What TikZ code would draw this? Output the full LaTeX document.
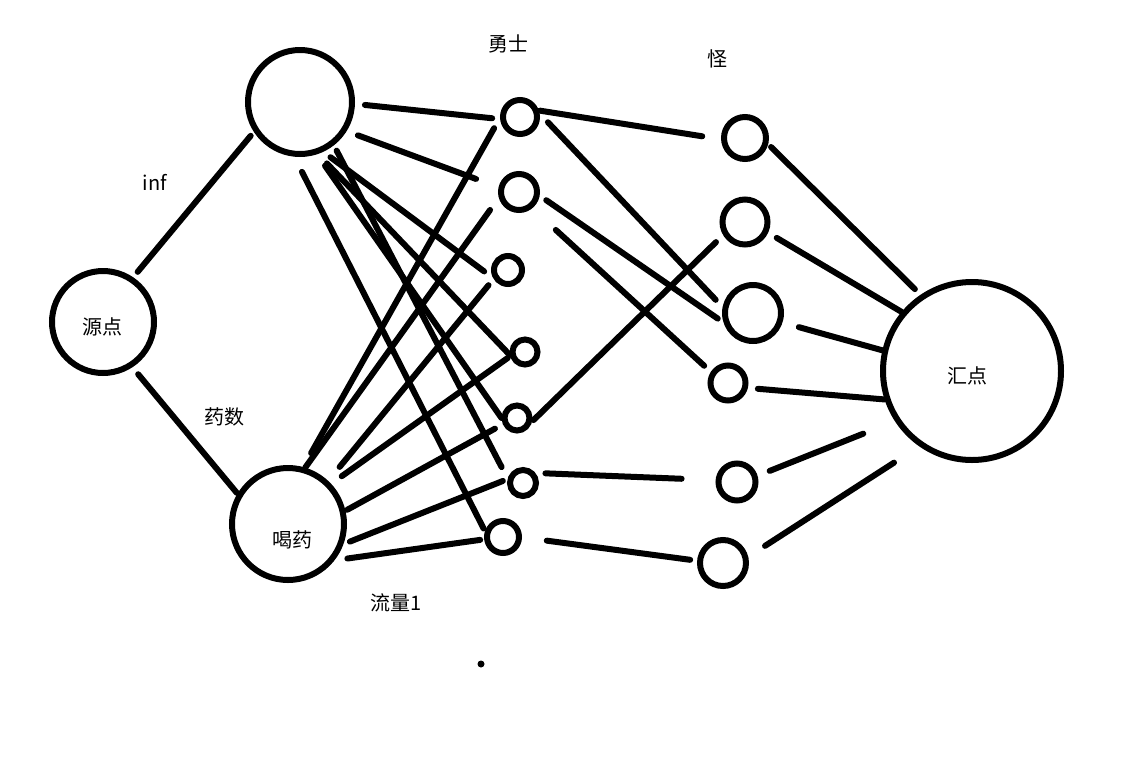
\documentclass[tikz,border=0pt]{standalone}
\usepackage{fontspec}
\newfontfamily\cjk{Noto Sans CJK SC}
\begin{document}
\begin{tikzpicture}[x=1pt,y=-1pt,
  vtx/.style={circle,draw,line width=6pt,inner sep=0pt,minimum size=#1},
  edge/.style={line width=6pt,line cap=round},
  lbl/.style={font=\cjk\fontsize{20}{22}\selectfont,inner sep=0pt}]
  \useasboundingbox[fill=white] (0,0) rectangle (1144,756);
  \node[vtx=102] (src) at (103,322) {};
  \node[vtx=104] (top) at (300,102) {};
  \node[vtx=112] (drink) at (288,524) {};
  \node[vtx=34] (h1) at (520,117) {};
  \node[vtx=36] (h2) at (519,192) {};
  \node[vtx=28] (h3) at (508,270) {};
  \node[vtx=25] (h4) at (525,352) {};
  \node[vtx=25] (h5) at (517,418) {};
  \node[vtx=26] (h6) at (523,483) {};
  \node[vtx=32] (h7) at (503,537) {};
  \node[vtx=42] (m1) at (745,138) {};
  \node[vtx=45] (m2) at (745,222) {};
  \node[vtx=56] (m3) at (753,313) {};
  \node[vtx=35] (m4) at (728,383) {};
  \node[vtx=37] (m5) at (737,482) {};
  \node[vtx=46] (m6) at (723,563) {};
  \node[vtx=178] (sink) at (972,371) {};
  \node[lbl] (srcname) at (102,327) {源点};
  \node[lbl] (drinkname) at (292,540) {喝药};
  \node[lbl] (sinkname) at (967,376) {汇点};
  \node[lbl] (inf) at (155,182) {inf};
  \node[lbl] (potions) at (224,417) {药数};
  \node[lbl] (flow) at (396,603) {流量1};
  \node[lbl] (heroes) at (508,44) {勇士};
  \node[lbl] (monsters) at (717,59) {怪};
  \node[circle,fill,inner sep=0pt,minimum size=7pt] (dot) at (481,664) {};
  \draw[edge,shorten <=7pt,shorten >=5pt] (src.56) -- (top.-147);
  \draw[edge,shorten <=9pt,shorten >=1pt] (src.-57) -- (drink.149);
  \draw[edge,shorten <=10pt,shorten >=8pt] (top.-2) -- (h1.-174);
  \draw[edge,shorten <=12pt,shorten >=24pt] (top.-32) -- (h2.167);
  \draw[edge,shorten <=9pt,shorten >=11pt] (top.-65) -- (h3.-152);
  \draw[edge,shorten <=13pt] (top.-71) -- (h4.-169);
  \draw[edge,shorten <=14pt] (top.-72) -- (h5.180);
  \draw[edge,shorten <=6pt,shorten >=13pt] (top.-52) -- (h6.164);
  \draw[edge,shorten <=17pt,shorten >=3pt] (top.-96) -- (h7.162);
  \draw[edge,shorten <=16pt,shorten >=12pt] (drink.75) -- (h1.-178);
  \draw[edge,shorten >=15pt] (drink.73) -- (h2.-164);
  \draw[edge,shorten <=18pt,shorten >=8pt] (drink.47) -- (h3.-148);
  \draw[edge,shorten <=13pt,shorten >=3pt] (drink.43) -- (h4.-164);
  \draw[edge,shorten <=2pt,shorten >=9pt] (drink.13) -- (h5.-156);
  \draw[edge,shorten <=7pt,shorten >=5pt] (drink.-20) -- (h6.166);
  \draw[edge,shorten <=13pt,shorten >=4pt] (drink.-38) -- (h7.-173);
  \draw[edge,shorten <=1pt,shorten >=19pt] (h1.19) -- (m1.-177);
  \draw[edge,shorten <=12pt,shorten >=10pt] (h1.10) -- (m3.169);
  \draw[edge,shorten <=8pt,shorten >=7pt] (h2.-10) -- (m3.-162);
  \draw[edge,shorten <=32pt,shorten >=9pt] (h2.-51) -- (m4.147);
  \draw[edge,shorten <=2pt,shorten >=10pt] (h5.-13) -- (m2.-149);
  \draw[edge,shorten <=10pt,shorten >=34pt] (h6.39) -- (m5.175);
  \draw[edge,shorten <=25pt,shorten >=7pt] (h7.-1) -- (m6.175);
  \draw[edge,shorten <=4pt,shorten >=8pt] (m1.-15) -- (sink.124);
  \draw[edge,shorten <=10pt] (m2.-25) -- (sink.140);
  \draw[edge,shorten <=17pt] (m3.-18) -- (sink.167);
  \draw[edge,shorten <=10pt] (m4.-14) -- (sink.-162);
  \draw[edge,shorten <=13pt,shorten >=34pt] (m5.17) -- (sink.-147);
  \draw[edge,shorten <=20pt,shorten >=30pt] (m6.14) -- (sink.-125);
\end{tikzpicture}
\end{document}
